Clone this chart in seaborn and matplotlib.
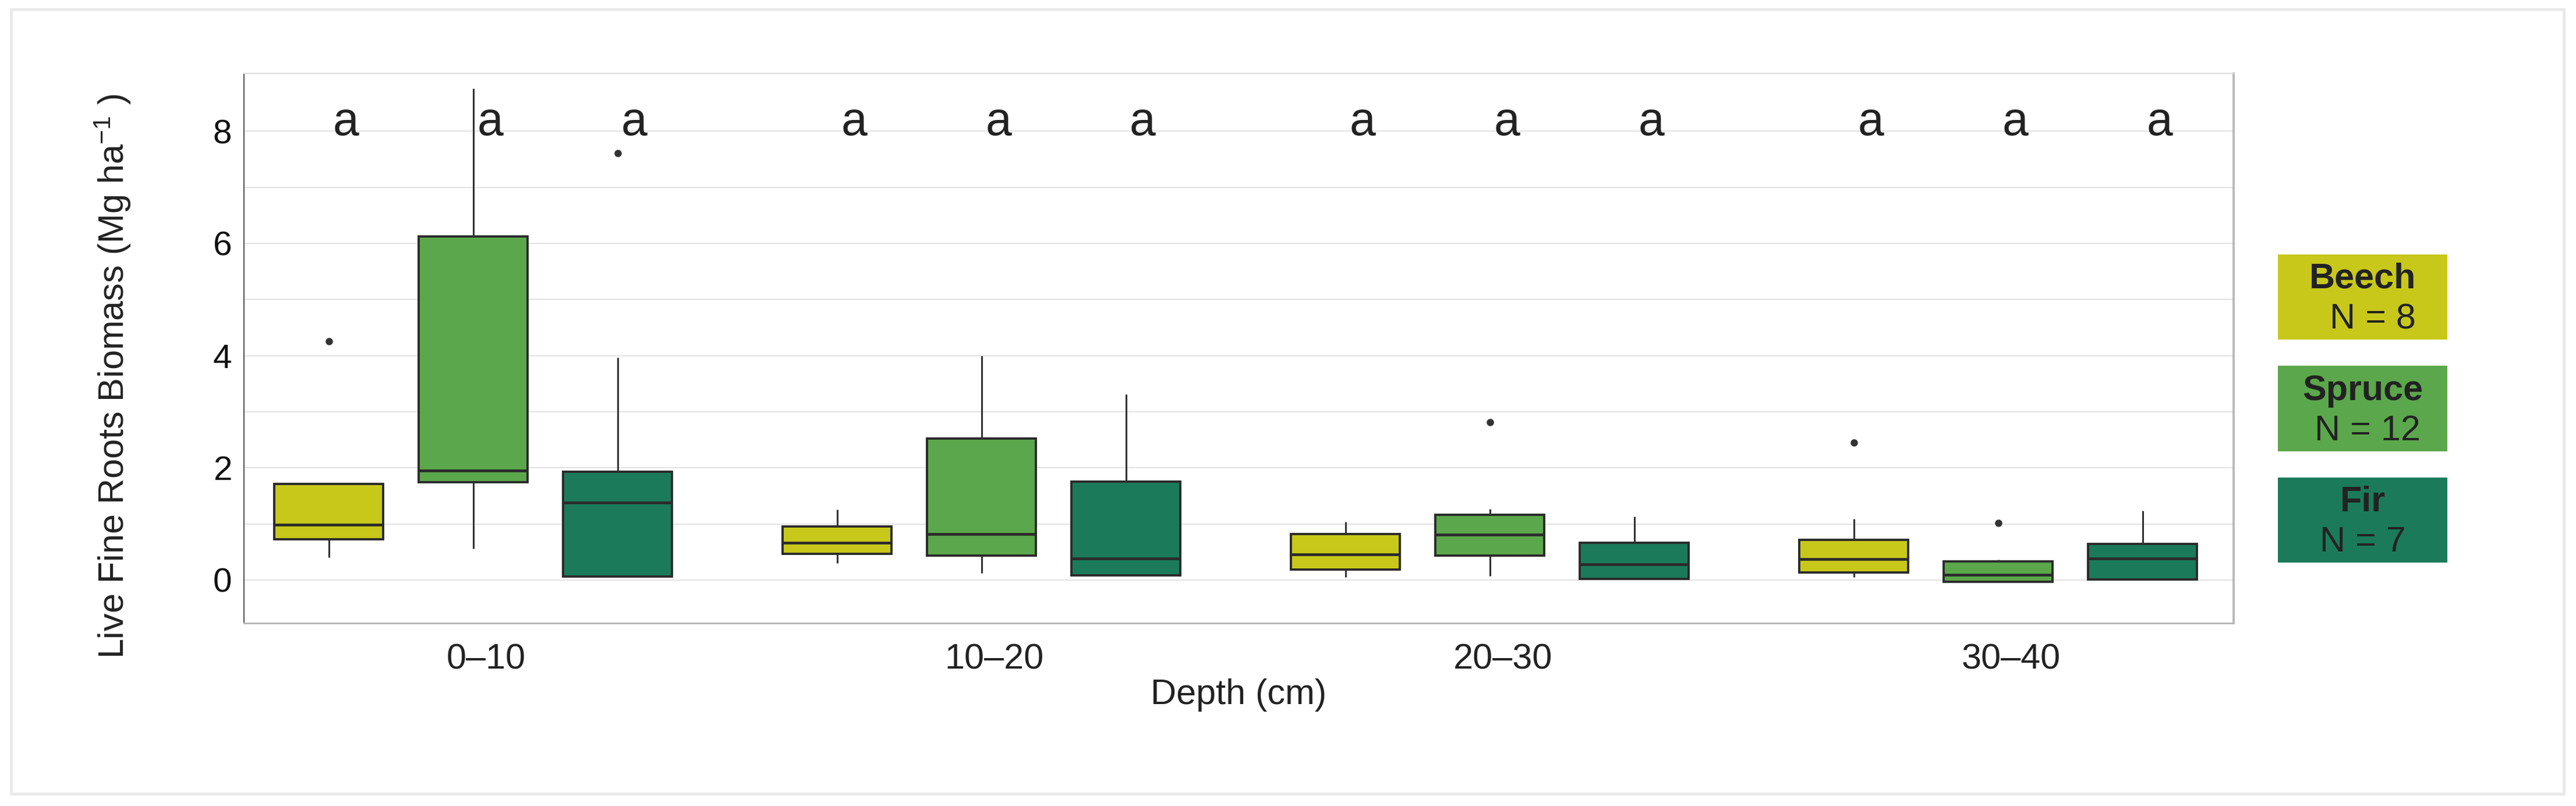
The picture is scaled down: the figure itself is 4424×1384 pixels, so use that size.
import numpy as np
import pandas as pd
import matplotlib
matplotlib.use("Agg")
import matplotlib.pyplot as plt
from matplotlib.patches import Rectangle
from matplotlib.transforms import ScaledTranslation
import seaborn as sns

# ---------------- data ----------------
depths = ["0\u201310", "10\u201320", "20\u201330", "30\u201340"]
species = ["Beech", "Spruce", "Fir"]
n_trees = [8, 12, 7]
colors = ["#C8C81A", "#5BA74B", "#1B7A5A"]
letters = ["a", "a", "a", "a", "a", "a", "a", "a", "a", "a", "a", "a"]

# five-number summaries per depth (whisker low, Q1, median, Q3, whisker high) and outliers
beech_wlo = [0.40, 0.30, 0.05, 0.05]
beech_q1 = [0.72, 0.47, 0.19, 0.13]
beech_med = [0.98, 0.66, 0.46, 0.37]
beech_q3 = [1.71, 0.95, 0.82, 0.71]
beech_whi = [1.71, 1.25, 1.04, 1.09]
beech_out = [4.25, None, None, 2.45]

spruce_wlo = [0.56, 0.12, 0.07, -0.03]
spruce_q1 = [1.74, 0.43, 0.43, -0.03]
spruce_med = [1.95, 0.82, 0.81, 0.09]
spruce_q3 = [6.12, 2.52, 1.16, 0.33]
spruce_whi = [8.76, 4.00, 1.26, 0.36]
spruce_out = [None, None, 2.81, 1.02]

fir_wlo = [0.06, 0.08, 0.02, 0.01]
fir_q1 = [0.06, 0.08, 0.02, 0.01]
fir_med = [1.38, 0.38, 0.28, 0.38]
fir_q3 = [1.93, 1.75, 0.66, 0.64]
fir_whi = [3.96, 3.31, 1.13, 1.23]
fir_out = [7.61, None, None, None]

letter_y = 7.93

# ---------------- build long table ----------------
stats = {
    "Beech": (beech_wlo, beech_q1, beech_med, beech_q3, beech_whi, beech_out),
    "Spruce": (spruce_wlo, spruce_q1, spruce_med, spruce_q3, spruce_whi, spruce_out),
    "Fir": (fir_wlo, fir_q1, fir_med, fir_q3, fir_whi, fir_out),
}
rows = []
for sp in species:
    wlo, q1, med, q3, whi, out = stats[sp]
    for i, d in enumerate(depths):
        last = out[i] if out[i] is not None else whi[i]
        sample = [wlo[i], q1[i], q1[i], med[i], med[i], q3[i], q3[i], whi[i], last]
        for v in sample:
            rows.append({"Depth": d, "Species": sp, "Biomass": v})
df = pd.DataFrame(rows)

# ---------------- style ----------------
sns.set_style("white")
plt.rcParams["font.family"] = ["Liberation Sans", "DejaVu Sans"]
plt.rcParams["mathtext.fontset"] = "custom"
plt.rcParams["mathtext.rm"] = "Liberation Sans"
plt.rcParams["mathtext.it"] = "Liberation Sans:italic"
plt.rcParams["text.color"] = "#222222"

W, H, DPI = 4424, 1384, 100
fig = plt.figure(figsize=(W / DPI, H / DPI), dpi=DPI)
fig.patch.set_facecolor("white")

# outer light frame
fig.patches.append(Rectangle((19 / W, 1 - 1363 / H), (4403 - 19) / W, (1363 - 16) / H,
                             transform=fig.transFigure, fill=False,
                             edgecolor="#e9e9e9", linewidth=3.6, zorder=0))

ax = fig.add_axes([419 / W, 1 - 1070 / H, (3836 - 419) / W, (1070 - 126) / H])

line_c = "#2a2a2a"
sns.boxplot(data=df, x="Depth", y="Biomass", hue="Species",
            order=depths, hue_order=species, palette=colors, saturation=1,
            width=0.852, gap=0.246, whis=1.5, linecolor=line_c, linewidth=2.8,
            fliersize=8, showcaps=False, legend=False, ax=ax,
            medianprops={"color": line_c, "linewidth": 3.4},
            whiskerprops={"color": "#333333", "linewidth": 2.2},
            flierprops={"marker": "o", "markerfacecolor": "#333333",
                        "markeredgecolor": "#333333"},
            zorder=3)

ax.set_xlim(-0.451, 3.463)
ax.set_ylim(-0.77, 9.03)

ax.set_yticks([0, 2, 4, 6, 8])
ax.set_yticks(np.arange(1, 9, 2), minor=True)
ax.grid(False)
ax.yaxis.grid(True, which="both", color="#e3e3e3", linewidth=1.5, zorder=0)
ax.set_axisbelow(True)
ax.tick_params(axis="y", which="both", length=0, pad=15, labelsize=42, labelcolor="#111111")
ax.tick_params(axis="x", length=0, pad=25, labelsize=44, labelcolor="#222222")

for lab in ax.get_xticklabels():
    lab.set_transform(lab.get_transform() + ScaledTranslation(0.22, 0, fig.dpi_scale_trans))

ax.set_xlabel("Depth (cm)", fontsize=44, labelpad=2, color="#222222")
ax.set_ylabel(r"Live Fine Roots Biomass (Mg ha$^{-1}$ )", fontsize=44, color="#222222")
ax.yaxis.set_label_coords(-0.056, 0.449)

ax.spines["left"].set_color("#555555")
ax.spines["left"].set_linewidth(1.5)
ax.spines["bottom"].set_color("#b5b5b5")
ax.spines["bottom"].set_linewidth(2.0)
ax.spines["right"].set_color("#b8b8b8")
ax.spines["right"].set_linewidth(2.8)
ax.spines["top"].set_color("#dddddd")
ax.spines["top"].set_linewidth(1.5)

# significance letters above each box
n_h = len(species)
slot = 0.852 / n_h
k = 0
for i in range(len(depths)):
    for j in range(n_h):
        xpos = i + (j - (n_h - 1) / 2) * slot + 0.033
        ax.text(xpos, letter_y, letters[k], ha="center", va="baseline",
                fontsize=58, color="#222222", zorder=5)
        k += 1

# ---------------- legend as coloured boxes ----------------
lax = fig.add_axes([3912 / W, 1 - 989 / H, (4203 - 3912) / W, (989 - 414) / H])
sns.barplot(x=[1] * len(species), y=species, hue=species, palette=colors,
            saturation=1, width=0.765, legend=False, edgecolor="none", ax=lax)
lax.set_xlim(0, 1)
lax.set_ylim(len(species) - 0.5, -0.5)
lax.axis("off")
n_pad = ["  ", " ", ""]
for i, sp in enumerate(species):
    lax.text(0.5, i - 0.078, sp, ha="center", va="baseline", fontsize=44,
             fontweight="bold", color="#222222")
    lax.text(0.5, i + 0.283, f"{n_pad[i]}N = {n_trees[i]}", ha="center", va="baseline",
             fontsize=44, color="#222222")

fig.savefig("out.png", dpi=DPI, facecolor="white")
